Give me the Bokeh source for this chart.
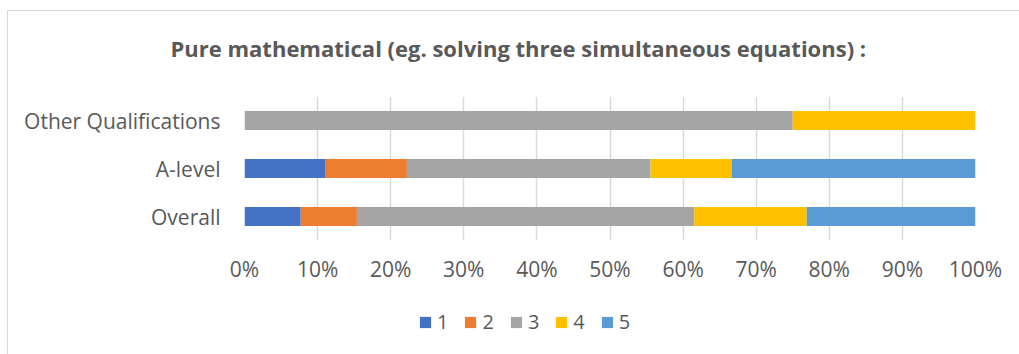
from bokeh.plotting import figure
from bokeh.layouts import column
from bokeh.models import (Range1d, FactorRange, FixedTicker, PrintfTickFormatter,
                          Legend, LegendItem, Title)
from bokeh.embed import file_html
from bokeh.resources import INLINE

categories = ["Overall", "A-level", "Other Qualifications"]
series_names = ["1", "2", "3", "4", "5"]
s1 = [7.69, 11.11, 0.0]
s2 = [7.69, 11.11, 0.0]
s3 = [46.15, 33.33, 75.0]
s4 = [15.38, 11.11, 25.0]
s5 = [23.08, 33.34, 0.0]
x_ticks = [0, 10, 20, 30, 40, 50, 60, 70, 80, 90, 100]
colors = ["#4472C4", "#ED7D31", "#A5A5A5", "#FFC000", "#5B9BD5"]
title_text = "Pure mathematical (eg. solving three simultaneous equations) :"

FONT = "Open Sans"
TXT = "#595959"

data = {"cat": categories, "1": s1, "2": s2, "3": s3, "4": s4, "5": s5}

# main chart
p = figure(width=1011, height=289, y_range=FactorRange(*categories),
           x_range=Range1d(0, 100), output_backend="svg", toolbar_location=None,
           min_border_left=236, min_border_right=44, min_border_top=85,
           min_border_bottom=60, title=title_text)
p.outline_line_color = None
p.background_fill_color = "white"
p.border_fill_color = "white"

p.title.align = "left"
p.title.offset = -74
p.title.standoff = 26
p.title.text_font = FONT
p.title.text_font_size = "22px"
p.title.text_font_style = "bold"
p.title.text_color = TXT

# blank spacer between the title and the plot area
spacer = Title(text=" ", text_font=FONT, text_font_size="14px", standoff=0)
p.add_layout(spacer, "above")

p.hbar_stack(series_names, y="cat", height=0.4, color=colors,
             line_color=None, source=data)

p.xaxis.ticker = FixedTicker(ticks=x_ticks)
p.xaxis.formatter = PrintfTickFormatter(format="%d%%")
for ax in (p.xaxis, p.yaxis):
    ax.axis_line_color = None
    ax.major_tick_line_color = None
    ax.minor_tick_line_color = None
    ax.major_label_text_font = FONT
    ax.major_label_text_font_size = "21px"
    ax.major_label_text_color = TXT
p.xaxis.major_label_standoff = 8
p.yaxis.major_label_standoff = 18

p.xgrid.grid_line_color = "#d9d9d9"
p.xgrid.grid_line_width = 1.5
p.ygrid.grid_line_color = None

# legend strip: series are hidden here, only their legend entries are shown
p2 = figure(width=1011, height=54, y_range=FactorRange(*categories),
            x_range=Range1d(0, 100), output_backend="svg", toolbar_location=None,
            x_axis_location=None, y_axis_location=None,
            min_border_left=0, min_border_right=0, min_border_top=0, min_border_bottom=0)
p2.outline_line_color = None
p2.grid.grid_line_color = None
rs2 = p2.hbar_stack(series_names, y="cat", height=0.4, color=colors,
                    line_color=None, source=data)
for r in rs2:
    r.visible = False
legend = Legend(items=[LegendItem(label=n, renderers=[r]) for n, r in zip(series_names, rs2)],
                orientation="horizontal", location=(174, 19),
                glyph_width=14, glyph_height=14, label_height=14, label_width=10,
                label_standoff=5, spacing=15, padding=0, margin=0,
                label_text_font=FONT, label_text_font_size="20px",
                label_text_color=TXT, border_line_color=None,
                background_fill_alpha=0, inactive_fill_alpha=0)
p2.add_layout(legend, "center")

layout = column(p, p2, spacing=0,
                styles={"margin-left": "7px", "margin-top": "10px",
                        "border-left": "1px solid #d9d9d9",
                        "border-top": "1px solid #d9d9d9"})

open("out.html", "w").write(file_html(layout, INLINE))
